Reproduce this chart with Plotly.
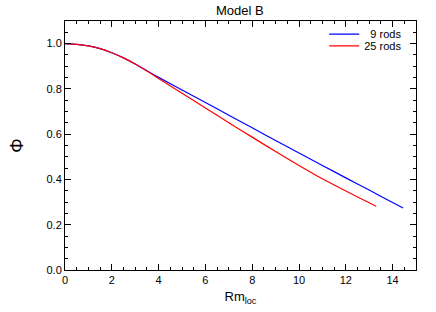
import plotly.graph_objects as go

x_blue = [0, 0.5, 1, 1.5, 2, 2.5, 3, 3.5, 4, 5, 6, 7, 8, 9, 10, 11, 12, 13, 14, 14.45]
y_blue = [1.0, 0.997, 0.99, 0.978, 0.960, 0.937, 0.910, 0.880, 0.851, 0.795, 0.740, 0.684, 0.628,
          0.572, 0.517, 0.462, 0.407, 0.353, 0.298, 0.274]
x_red = [0, 0.5, 1, 1.5, 2, 2.5, 3, 3.5, 4, 5, 6, 7, 8, 9, 10, 11, 12, 13, 13.3]
y_red = [1.0, 0.997, 0.99, 0.978, 0.960, 0.937, 0.910, 0.879, 0.846, 0.781, 0.716, 0.651, 0.587,
         0.523, 0.462, 0.403, 0.349, 0.297, 0.282]
names = ["\u00a0\u00a09 rods", "25 rods"]

FONT = "Liberation Sans, Arial, Helvetica, sans-serif"

fig = go.Figure()
fig.add_trace(go.Scatter(x=x_blue, y=y_blue, mode="lines", name=names[0], legend="legend",
                         line=dict(color="#0000ff", width=1.2, shape="spline", smoothing=0.6)))
fig.add_trace(go.Scatter(x=x_red, y=y_red, mode="lines", name=names[1], legend="legend2",
                         line=dict(color="#ff0000", width=1.2, shape="spline", smoothing=0.6)))

axis_common = dict(
    showgrid=False, zeroline=False, showline=True, linecolor="black", linewidth=1,
    mirror="ticks", ticks="inside", ticklen=6, tickcolor="black", tickwidth=1,
    tickfont=dict(family=FONT, size=11, color="black"), automargin=False,
)
fig.update_xaxes(range=[0, 15], dtick=2, tick0=0,
                 minor=dict(dtick=0.5, ticks="inside", ticklen=3, tickcolor="black", showgrid=False),
                 title=dict(text="Rm<sub>loc</sub>", font=dict(family=FONT, size=13, color="black"),
                            standoff=6),
                 **axis_common)
fig.update_yaxes(range=[0, 1.1], dtick=0.2, tick0=0, tickformat=".1f",
                 minor=dict(dtick=0.05, ticks="inside", ticklen=3, tickcolor="black", showgrid=False),
                 title=dict(text="Φ", font=dict(family=FONT, size=18, color="black"), standoff=18),
                 **axis_common)

leg_common = dict(xanchor="right", yanchor="middle", bgcolor="rgba(0,0,0,0)",
                  font=dict(family=FONT, size=11, color="black"), itemwidth=30,
                  borderwidth=0)
fig.update_layout(
    width=436, height=312,
    margin=dict(l=65, r=20, t=21, b=42, autoexpand=False),
    paper_bgcolor="white", plot_bgcolor="white",
    title=dict(text="Model B", x=0.55, xanchor="center", y=0.965, yanchor="middle",
               font=dict(family=FONT, size=13, color="black")),
    legend=dict(x=0.975, y=0.947, **leg_common),
    legend2=dict(x=0.975, y=0.900, **leg_common),
    showlegend=True,
)

fig.write_html("out.html", config={"displayModeBar": False},
               post_script="document.body.style.margin='0';document.body.style.overflow='hidden';")
